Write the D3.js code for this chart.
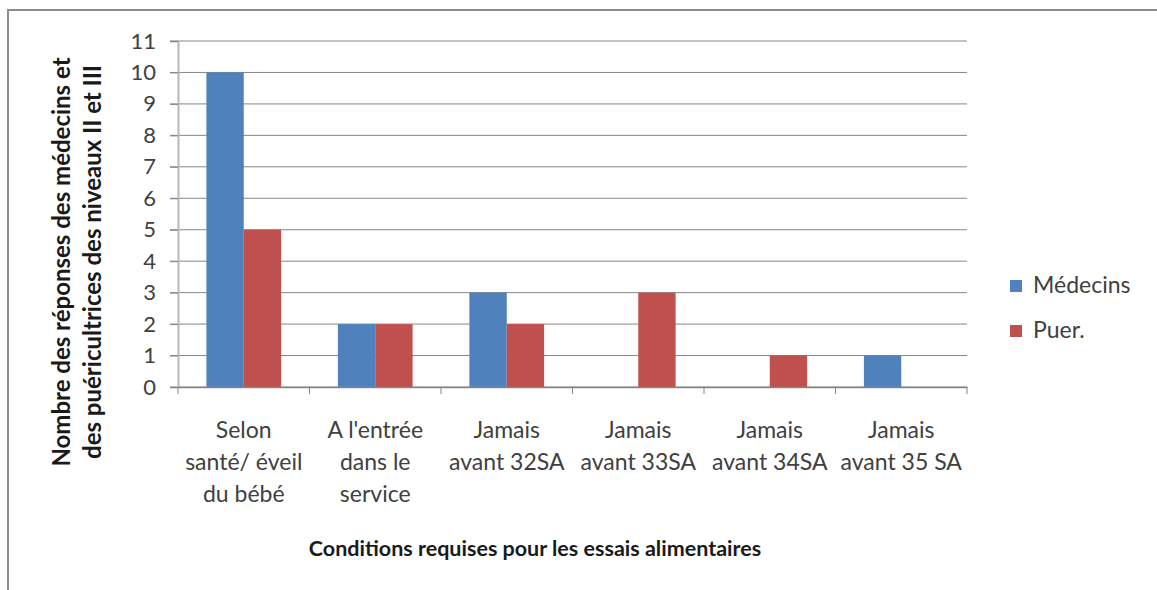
<!DOCTYPE html>
<html>
<head>
<meta charset="utf-8">
<script src="https://cdn.jsdelivr.net/npm/d3@7"></script>
<style>
  body { margin: 0; background: #fff; }
  text { font-family: Lato, "Open Sans", sans-serif; }
</style>
</head>
<body>
<div id="chart"></div>
<script>
// data
const categories = [
  ["Selon", "santé/ éveil", "du bébé"],
  ["A l'entrée", "dans le", "service"],
  ["Jamais", "avant 32SA"],
  ["Jamais", "avant 33SA"],
  ["Jamais", "avant 34SA"],
  ["Jamais", "avant 35 SA"]
];
const seriesNames = ["Médecins", "Puer."];
const medecins = [10, 2, 3, 0, 0, 1];
const puer = [5, 2, 2, 3, 1, 0];
const yTicks = [0, 1, 2, 3, 4, 5, 6, 7, 8, 9, 10, 11];
const colors = ["#4F81BD", "#C0504D"];

const W = 1157, H = 590;
const plot = {left: 178, right: 967, top: 41, bottom: 387};

const svg = d3.select("#chart").append("svg")
  .attr("width", W)
  .attr("height", H);

// outer frame (runs off the right and bottom edge)
svg.append("rect")
  .attr("x", 8).attr("y", 10)
  .attr("width", W + 20).attr("height", H + 20)
  .attr("fill", "#fff")
  .attr("stroke", "#8c8c8c")
  .attr("stroke-width", 2);

const x = d3.scaleBand()
  .domain(d3.range(categories.length))
  .range([plot.left, plot.right]);

const x1 = d3.scaleBand()
  .domain(seriesNames)
  .range([0, x.bandwidth()])
  .paddingInner(0)
  .paddingOuter(0.76);

const y = d3.scaleLinear()
  .domain([0, 11])
  .range([plot.bottom, plot.top]);

// gridlines
svg.append("g")
  .selectAll("line")
  .data(yTicks)
  .join("line")
  .attr("x1", plot.left - 8)
  .attr("x2", plot.right)
  .attr("y1", d => y(d))
  .attr("y2", d => y(d))
  .attr("stroke", "#868686")
  .attr("stroke-width", 1);

// y axis
const yAxis = svg.append("g")
  .attr("transform", `translate(${plot.left},0)`)
  .call(d3.axisLeft(y).tickValues(yTicks).tickSize(8).tickPadding(14));
yAxis.select(".domain").attr("stroke", "#b8b8b8").attr("stroke-width", 2);
yAxis.selectAll(".tick line").attr("stroke", "#868686");
yAxis.selectAll(".tick text")
  .attr("fill", "#404040")
  .style("font-size", "22px");

// bars
const rows = categories.map((c, i) => ({i, values: [medecins[i], puer[i]]}));
svg.append("g")
  .selectAll("g")
  .data(rows)
  .join("g")
  .attr("transform", d => `translate(${x(d.i)},0)`)
  .selectAll("rect")
  .data(d => d.values.map((v, k) => ({name: seriesNames[k], v, k})))
  .join("rect")
  .attr("x", d => x1(d.name))
  .attr("width", x1.bandwidth())
  .attr("y", d => y(d.v))
  .attr("height", d => y(0) - y(d.v))
  .attr("fill", d => colors[d.k]);

// x axis
const xAxis = svg.append("g")
  .attr("transform", `translate(0,${plot.bottom})`)
  .call(d3.axisBottom(x).tickSize(0).tickFormat(""));
xAxis.select(".domain").attr("stroke", "#868686").attr("stroke-width", 1.5);

// category separators
svg.append("g")
  .selectAll("line")
  .data(d3.range(categories.length + 1))
  .join("line")
  .attr("x1", d => plot.left + d * x.step())
  .attr("x2", d => plot.left + d * x.step())
  .attr("y1", plot.bottom)
  .attr("y2", plot.bottom + 7)
  .attr("stroke", "#868686");

// category labels
svg.append("g")
  .selectAll("text")
  .data(categories)
  .join("text")
  .attr("x", (d, i) => x(i) + x.bandwidth() / 2)
  .attr("y", 438)
  .attr("text-anchor", "middle")
  .attr("fill", "#404040")
  .style("font-size", "23px")
  .selectAll("tspan")
  .data(d => d)
  .join("tspan")
  .attr("x", function() { return this.parentNode.getAttribute("x"); })
  .attr("dy", (d, j) => j === 0 ? 0 : 32)
  .text(d => d);

// x axis title
svg.append("text")
  .attr("x", 535)
  .attr("y", 556)
  .attr("text-anchor", "middle")
  .attr("fill", "#1a1a1a")
  .style("font-size", "21.5px")
  .style("font-weight", "bold")
  .text("Conditions requises pour les essais alimentaires");

// y axis title
const yTitle = svg.append("text")
  .attr("transform", "translate(70,262) rotate(-90)")
  .attr("text-anchor", "middle")
  .attr("fill", "#1a1a1a")
  .style("font-size", "24px")
  .style("font-weight", "bold");
yTitle.append("tspan").attr("x", 0).attr("dy", 0).text("Nombre des réponses des médecins et");
yTitle.append("tspan").attr("x", 0).attr("dy", 31).text("des puéricultrices des niveaux II et III");

// legend
const legend = svg.append("g")
  .selectAll("g")
  .data(seriesNames)
  .join("g")
  .attr("transform", (d, i) => `translate(1010,${280 + i * 45})`);
legend.append("rect")
  .attr("width", 12).attr("height", 12)
  .attr("fill", (d, i) => colors[i]);
legend.append("text")
  .attr("x", 23).attr("y", 13)
  .attr("fill", "#404040")
  .style("font-size", "23px")
  .text(d => d);
</script>
</body>
</html>
